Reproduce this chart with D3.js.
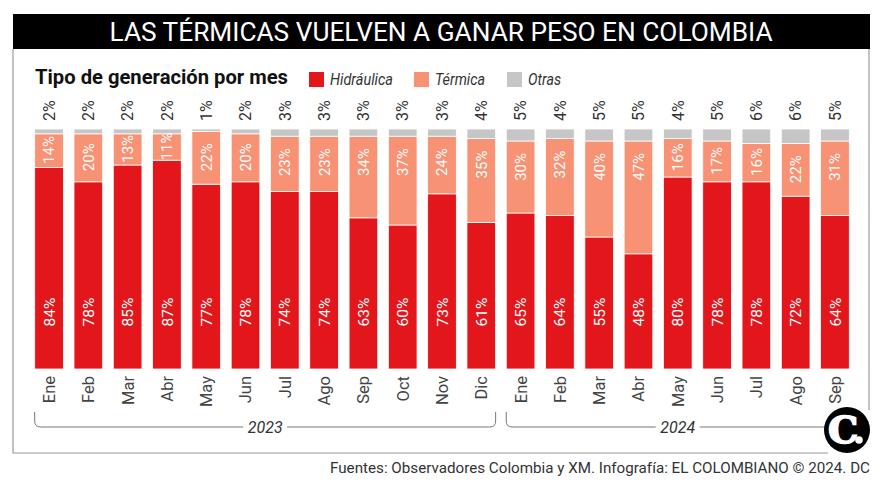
<!DOCTYPE html>
<html><head><meta charset="utf-8">
<script src="https://cdn.jsdelivr.net/npm/d3@7"></script>
<style>body{margin:0;background:#fff}svg{display:block}text{font-family:Roboto,"Noto Sans",sans-serif}</style>
</head><body><svg id="c" width="883" height="487"></svg>
<script>
const months = ["Ene","Feb","Mar","Abr","May","Jun","Jul","Ago","Sep","Oct","Nov","Dic","Ene","Feb","Mar","Abr","May","Jun","Jul","Ago","Sep"];
const years = ["2023","2023","2023","2023","2023","2023","2023","2023","2023","2023","2023","2023","2024","2024","2024","2024","2024","2024","2024","2024","2024"];
const hidraulica = [84,78,85,87,77,78,74,74,63,60,73,61,65,64,55,48,80,78,78,72,64];
const termica    = [14,20,13,11,22,20,23,23,34,37,24,35,30,32,40,47,16,17,16,22,31];
const otras      = [2,2,2,2,1,2,3,3,3,3,3,4,5,4,5,5,4,5,6,6,5];
const seriesNames = ["Hidráulica","Térmica","Otras"];
const colors = ["#e3161b","#f89274","#c6c6c6"];

const svg = d3.select("#c");
const ids = months.map((m,i)=>i);
const x = d3.scaleBand().domain(ids).range([34.7, 849.3]).paddingInner(0.27).paddingOuter(0);
const y = d3.scaleLinear().domain([0,100]).range([369,129]);

// frame
svg.append("path").attr("d","M13,49V453H828").attr("fill","none").attr("stroke","#9a9a9a").attr("stroke-width",1.2);
svg.append("path").attr("d","M869,49V410").attr("fill","none").attr("stroke","#9a9a9a").attr("stroke-width",1.2);
svg.append("rect").attr("x",13).attr("y",14).attr("width",857).attr("height",35).attr("fill","#000");
svg.append("text").attr("x",441).attr("y",41).attr("text-anchor","middle").attr("fill","#fff")
  .attr("font-size",25).attr("textLength",663).attr("lengthAdjust","spacingAndGlyphs")
  .text("LAS TÉRMICAS VUELVEN A GANAR PESO EN COLOMBIA");

svg.append("text").attr("x",35).attr("y",84).attr("fill","#111").attr("font-weight",700).attr("font-size",21)
  .attr("textLength",253).attr("lengthAdjust","spacingAndGlyphs").text("Tipo de generación por mes");

// legend
const legX = [309,414,507], legW=[63,50,33];
seriesNames.forEach((n,i)=>{
  svg.append("rect").attr("x",legX[i]).attr("y",72).attr("width",15).attr("height",15).attr("fill",colors[i]);
  svg.append("text").attr("x",legX[i]+21).attr("y",85).attr("font-size",16).attr("font-style","italic").attr("fill","#333")
    .attr("textLength",legW[i]).attr("lengthAdjust","spacingAndGlyphs").text(n);
});

// stacks
const rows = ids.map(i=>({i, "Hidráulica":hidraulica[i], "Térmica":termica[i], "Otras":otras[i]}));
const stack = d3.stack().keys(seriesNames)(rows);
stack.forEach((s,k)=>{
  svg.append("g").selectAll("rect").data(s).join("rect")
    .attr("x",d=>x(d.data.i)).attr("width",x.bandwidth())
    .attr("y",d=>y(d[1])).attr("height",d=>y(d[0])-y(d[1]))
    .attr("fill",colors[k]).attr("stroke","#fff").attr("stroke-width",0.8);
});

function vtext(g, cx, yy, anchor, txt, size, fill){
  g.append("text").attr("transform",`translate(${cx},${yy}) rotate(-90)`)
   .attr("text-anchor",anchor).attr("dy","0.36em").attr("font-size",size).attr("fill",fill).text(txt);
}
const lab = svg.append("g");
ids.forEach(i=>{
  const cx = x(i)+x.bandwidth()/2;
  vtext(lab,cx,121,"start",otras[i]+"%",16,"#333");
  vtext(lab,cx,312,"middle",hidraulica[i]+"%",15.5,"#fff");
  const t0 = y(hidraulica[i]+termica[i]), t1 = y(hidraulica[i]);
  const ctr = (t0+t1)/2;
  const top = Math.max(Math.min(ctr-14.5, t0+12), t0-2);
  vtext(lab,cx,top,"end",termica[i]+"%",15,"#fff");
  vtext(lab,cx,376,"end",months[i],16.5,"#444");
});

// year brackets
const yearList = Array.from(new Set(years));
yearList.forEach(yr=>{
  const idx = ids.filter(i=>years[i]===yr);
  const x0 = x(idx[0]), x1 = x(idx[idx.length-1])+x.bandwidth();
  const xm = (x0+x1)/2, ly=427, r=6, gap=22;
  svg.append("path").attr("d",`M${x0},412V${ly-r}Q${x0},${ly} ${x0+r},${ly}H${xm-gap}M${xm+gap},${ly}H${x1-r}Q${x1},${ly} ${x1},${ly-r}V412`)
    .attr("fill","none").attr("stroke","#777").attr("stroke-width",1);
  svg.append("text").attr("x",xm).attr("y",433).attr("text-anchor","middle").attr("font-size",16)
    .attr("font-style","italic").attr("fill","#333").text(yr);
});

// logo
svg.append("circle").attr("cx",847).attr("cy",430).attr("r",23).attr("fill","#000");
svg.append("text").attr("x",843).attr("y",443).attr("text-anchor","middle")
  .style("font-family","'DejaVu Serif','Liberation Serif',serif")
  .attr("font-weight",700).attr("font-size",38).attr("fill","#fff")
  .attr("stroke","#fff").attr("stroke-width",1.6).text("C");
svg.append("circle").attr("cx",859).attr("cy",440).attr("r",3.8).attr("fill","#fff");

svg.append("text").attr("x",870).attr("y",473).attr("text-anchor","end").attr("font-size",15).attr("fill","#333")
  .attr("textLength",540).attr("lengthAdjust","spacingAndGlyphs")
  .text("Fuentes: Observadores Colombia y XM. Infografía: EL COLOMBIANO © 2024. DC");
</script></body></html>
